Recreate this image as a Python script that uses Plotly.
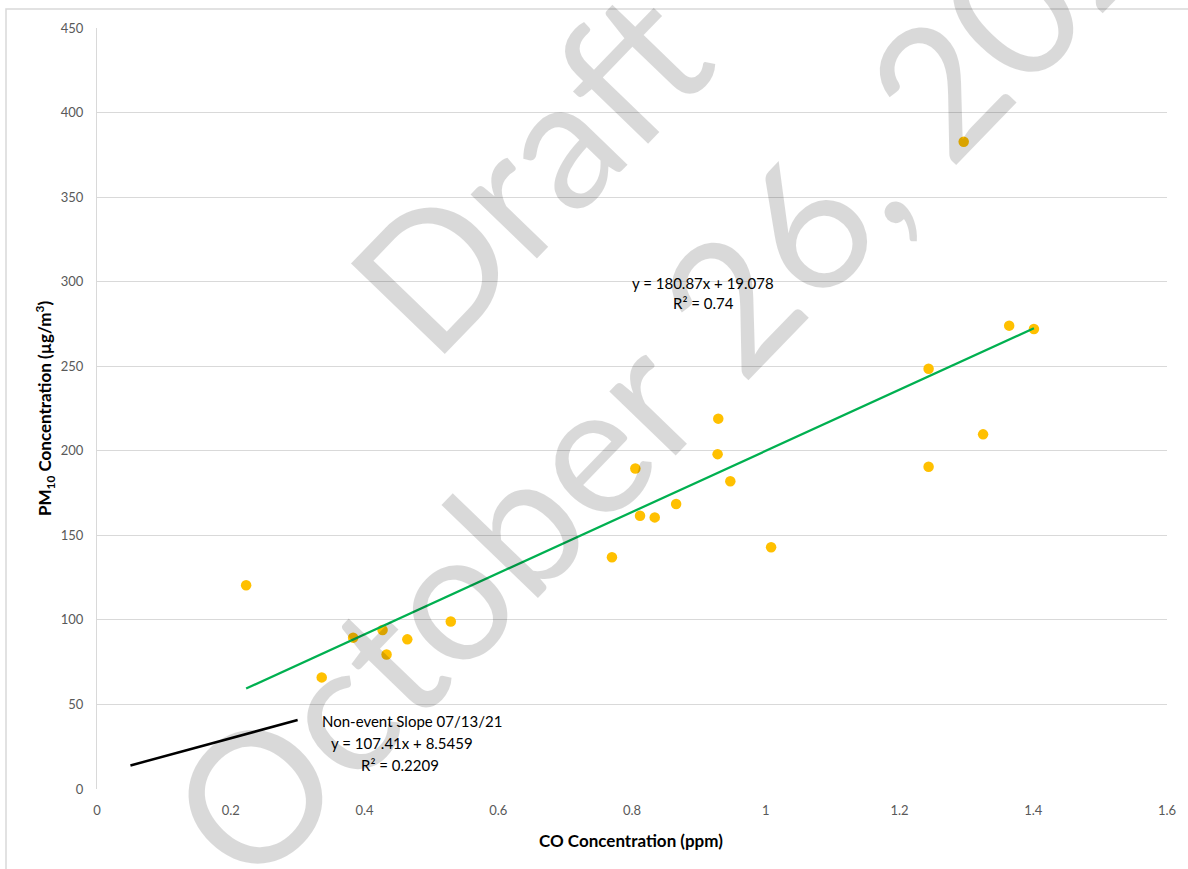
import plotly.graph_objects as go

# Event-day observations: CO (ppm) vs PM10 (µg/m³)
co_ppm = [0.223, 0.336, 0.383, 0.427, 0.433, 0.464, 0.529, 0.770, 0.805, 0.812, 0.834,
          0.866, 0.928, 0.929, 0.947, 1.008, 1.2435, 1.2435, 1.296, 1.325, 1.364, 1.401]
pm10 = [120.5, 66, 89.5, 94, 79.5, 88.5, 99, 137, 189.5, 161.6, 160.6,
        168.5, 198, 219, 182, 143, 248.5, 190.6, 382.7, 209.7, 274, 272]

# Linear fit of the event data
event_slope, event_intercept, event_r2 = 180.87, 19.078, 0.74
# Non-event reference slope (07/13/21)
nonevent_slope, nonevent_intercept, nonevent_r2 = 107.41, 8.5459, 0.2209
nonevent_x = [0.05, 0.3]

x_ticks = [0, 0.2, 0.4, 0.6, 0.8, 1, 1.2, 1.4, 1.6]
y_ticks = [0, 50, 100, 150, 200, 250, 300, 350, 400, 450]

W, H = 1188, 869
ML, MR, MT, MB = 97, 21, 28, 80
PW, PH = W - ML - MR, H - MT - MB


def px_to_paper(px, py):
    return (px - ML) / PW, (H - MB - py) / PH


fit_x = [min(co_ppm), max(co_ppm)]
fit_y = [event_slope * v + event_intercept for v in fit_x]
nonevent_y = [nonevent_slope * v + nonevent_intercept for v in nonevent_x]

fig = go.Figure()
fig.add_trace(go.Scatter(x=co_ppm, y=pm10, mode="markers",
                         marker=dict(color="#FFC000", size=10.5), hoverinfo="x+y"))
fig.add_trace(go.Scatter(x=fit_x, y=fit_y, mode="lines",
                         line=dict(color="#00B050", width=2.25)))
fig.add_trace(go.Scatter(x=nonevent_x, y=nonevent_y, mode="lines",
                         line=dict(color="#000000", width=2.5)))

text_font = dict(family="Lato", size=15, color="#000000")
annotations = []

# fit equation labels
for txt, (cx, cy) in [
    (f"y = {event_slope}x + {event_intercept}", (703, 283)),
    (f"R² = {event_r2}", (703, 303)),
    ("Non-event Slope 07/13/21", (412, 721)),
    (f"y = {nonevent_slope}x + {nonevent_intercept}", (402, 743)),
    (f"R² = {nonevent_r2}", (400, 765)),
]:
    ax, ay = px_to_paper(cx, cy)
    annotations.append(dict(x=ax, y=ay, xref="paper", yref="paper", text=txt,
                            showarrow=False, font=text_font,
                            xanchor="center", yanchor="middle"))

# axis titles
tx, ty = px_to_paper(631, 840)
annotations.append(dict(x=tx, y=ty, xref="paper", yref="paper",
                        text="<b>CO Concentration (ppm)</b>", showarrow=False,
                        font=dict(family="Lato", size=17, color="#000000"),
                        xanchor="center", yanchor="middle"))
tx, ty = px_to_paper(45, 409)
annotations.append(dict(x=tx, y=ty, xref="paper", yref="paper",
                        text="<b>PM<sub>10</sub> Concentration (µg/m<sup>3</sup>)</b>",
                        showarrow=False, textangle=-90,
                        font=dict(family="Lato", size=17, color="#000000"),
                        xanchor="center", yanchor="middle"))

# draft watermark
wx, wy = px_to_paper(612, 250)
annotations.append(dict(x=wx, y=wy, xref="paper", yref="paper",
                        text="Draft<br>October 26, 2021", showarrow=False,
                        textangle=-46, align="center",
                        font=dict(family="Lato", size=182, color="rgba(0,0,0,0.15)"),
                        xanchor="center", yanchor="middle"))

bx0, by0 = px_to_paper(6, 880)
bx1, by1 = px_to_paper(1200, 9)

fig.update_layout(
    width=W, height=H,
    margin=dict(l=ML, r=MR, t=MT, b=MB),
    paper_bgcolor="white", plot_bgcolor="white",
    showlegend=False,
    annotations=annotations,
    shapes=[dict(type="rect", xref="paper", yref="paper",
                 x0=bx0, y0=by0, x1=bx1, y1=by1,
                 line=dict(color="#D9D9D9", width=1.5), layer="below")],
    xaxis=dict(range=[0, 1.6], tickvals=x_ticks, ticktext=[f"{v:g}" for v in x_ticks],
               showgrid=False, zeroline=False, showline=False, ticks="",
               tickfont=dict(family="Lato", size=13, color="#595959"),
               ticklabelstandoff=12),
    yaxis=dict(range=[0, 450], tickvals=y_ticks,
               showgrid=True, gridcolor="#D9D9D9", gridwidth=1,
               zeroline=False, showline=True, linecolor="#D9D9D9", linewidth=1,
               ticks="", tickfont=dict(family="Lato", size=13, color="#595959"),
               ticklabelstandoff=10),
)

fig.write_html("out.html")
